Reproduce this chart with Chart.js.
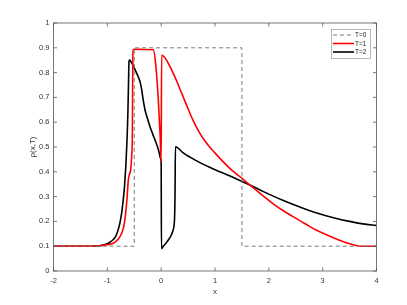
<!DOCTYPE html>
<html><head><meta charset="utf-8">
<script src="https://cdn.jsdelivr.net/npm/chart.js@4"></script>
<style>html,body{margin:0;padding:0;background:#fff}#wrap{width:407px;height:305px}</style>
</head><body><div id="wrap"><canvas id="c"></canvas></div>
<script>
const xTicks=[-2,-1,0,1,2,3,4];
const yTicks=[0,0.1,0.2,0.3,0.4,0.5,0.6,0.7,0.8,0.9,1];
const seriesNames=['T=0','T=1','T=2'];

const t0X=[-2,-0.5,-0.5,1.5,1.5,4];
const t0Y=[0.1,0.1,0.9,0.9,0.1,0.1];

const t1X=[-2,-1.4,-1.2,-1.1,-1.0,-0.89,-0.8,-0.733,-0.69,-0.66,-0.635,-0.61,-0.588,-0.566,-0.545,-0.535,-0.525,-0.515,-0.5,-0.3,-0.146,-0.1,-0.053,-0.02,0.0,0.008,0.05,0.1,0.15,0.2,0.25,0.3,0.35,0.4,0.45,0.5,0.55,0.6,0.66,0.72,0.8,0.9,0.97,1.1,1.28,1.465,1.645,1.9,2.1,2.27,2.45,2.6,2.75,2.89,3.05,3.2,3.35,3.5,3.6,3.69,4];
const t1Y=[0.1,0.1,0.101,0.103,0.106,0.112,0.128,0.152,0.185,0.233,0.29,0.367,0.39,0.41,0.475,0.55,0.88,0.893,0.894,0.893,0.892,0.83,0.69,0.55,0.44,0.87,0.865,0.85,0.83,0.808,0.785,0.76,0.733,0.707,0.68,0.654,0.628,0.604,0.578,0.555,0.528,0.5,0.483,0.452,0.413,0.38,0.347,0.302,0.268,0.243,0.219,0.2,0.181,0.164,0.148,0.134,0.121,0.11,0.104,0.1,0.1];

const t2X=[-2,-1.3,-1.2,-1.1,-1.0,-0.95,-0.9,-0.857,-0.81,-0.765,-0.733,-0.703,-0.685,-0.672,-0.655,-0.64,-0.629,-0.618,-0.61,-0.603,-0.597,-0.591,-0.55,-0.517,-0.46,-0.42,-0.393,-0.365,-0.343,-0.32,-0.3,-0.25,-0.207,-0.16,-0.114,-0.07,-0.035,-0.015,0.0,0.005,0.04,0.08,0.133,0.18,0.215,0.24,0.25,0.257,0.265,0.41,0.536,0.72,0.9,1.093,1.28,1.45,1.645,1.9,2.27,2.6,2.89,3.2,3.5,3.75,4];
const t2Y=[0.1,0.1,0.101,0.104,0.11,0.116,0.125,0.135,0.158,0.195,0.235,0.29,0.33,0.37,0.43,0.5,0.56,0.64,0.72,0.8,0.845,0.851,0.84,0.826,0.8,0.78,0.763,0.735,0.703,0.672,0.649,0.612,0.582,0.554,0.528,0.502,0.475,0.455,0.44,0.09,0.1,0.11,0.125,0.142,0.16,0.185,0.22,0.3,0.501,0.476,0.459,0.437,0.418,0.40,0.383,0.366,0.347,0.32,0.284,0.256,0.234,0.215,0.2,0.19,0.183];

const pts=(xs,ys)=>xs.map((x,i)=>({x:x,y:ys[i]}));

const boxPlugin={
  id:'box',
  afterDatasetsDraw(chart){
    const ctx=chart.ctx, a=chart.chartArea, xs=chart.scales.x, ys=chart.scales.y;
    ctx.save();
    ctx.strokeStyle='#555'; ctx.lineWidth=0.8;
    ctx.strokeRect(a.left,a.top,a.right-a.left,a.bottom-a.top);
    const L=3.5;
    ctx.beginPath();
    xTicks.forEach(v=>{const p=xs.getPixelForValue(v);
      ctx.moveTo(p,a.bottom);ctx.lineTo(p,a.bottom-L);
      ctx.moveTo(p,a.top);ctx.lineTo(p,a.top+L);});
    yTicks.forEach(v=>{const p=ys.getPixelForValue(v);
      ctx.moveTo(a.left,p);ctx.lineTo(a.left+L,p);
      ctx.moveTo(a.right,p);ctx.lineTo(a.right-L,p);});
    ctx.stroke();
    // legend
    const bx=331.5, by=29.5, bw=39, bh=29;
    ctx.fillStyle='#fff'; ctx.fillRect(bx,by,bw,bh);
    ctx.strokeStyle='#999'; ctx.lineWidth=0.7; ctx.strokeRect(bx,by,bw,bh);
    const rows=[35,43.5,52];
    chart.data.datasets.forEach((ds,i)=>{
      ctx.beginPath();
      ctx.strokeStyle=ds.borderColor; ctx.lineWidth=ds.borderWidth;
      ctx.setLineDash(ds.borderDash||[]);
      ctx.moveTo(333,rows[i]); ctx.lineTo(354,rows[i]); ctx.stroke();
      ctx.setLineDash([]);
      ctx.fillStyle='#222'; ctx.font='6.5px "Liberation Sans", Arial, sans-serif';
      ctx.textBaseline='middle'; ctx.textAlign='left';
      ctx.fillText(ds.label,355,rows[i]+0.5);
    });
    ctx.restore();
  }
};

const font={family:'"Liberation Sans", Arial, sans-serif',size:7.5};

new Chart(document.getElementById('c'),{
  type:'scatter',
  data:{datasets:[
    {label:seriesNames[0],data:pts(t0X,t0Y),showLine:true,borderColor:'#7a7a7a',borderWidth:1,borderDash:[4,3],pointRadius:0,fill:false},
    {label:seriesNames[1],data:pts(t1X,t1Y),showLine:true,cubicInterpolationMode:'monotone',borderColor:'#ff0000',borderWidth:1.6,pointRadius:0,fill:false},
    {label:seriesNames[2],data:pts(t2X,t2Y),showLine:true,cubicInterpolationMode:'monotone',borderColor:'#000000',borderWidth:1.6,pointRadius:0,fill:false}
  ]},
  options:{
    responsive:true,maintainAspectRatio:false,animation:false,
    layout:{padding:{top:23,right:30.5,left:0,bottom:0}},
    plugins:{legend:{display:false},tooltip:{enabled:false}},
    scales:{
      x:{type:'linear',min:-2,max:4,
        afterBuildTicks:s=>{s.ticks=xTicks.map(v=>({value:v}));},
        afterFit:s=>{s.height=34;},
        grid:{display:false,drawTicks:false},border:{display:false},
        ticks:{font:font,color:'#333',padding:5,maxRotation:0,callback:v=>String(v)},
        title:{display:true,text:'x',font:{family:font.family,size:8},color:'#333',padding:{top:0,bottom:8}}
      },
      y:{type:'linear',min:0,max:1,
        afterBuildTicks:s=>{s.ticks=yTicks.map(v=>({value:v}));},
        afterFit:s=>{s.width=53.5;},
        grid:{display:false,drawTicks:false},border:{display:false},
        ticks:{font:font,color:'#333',padding:4,callback:v=>String(v)},
        title:{display:true,text:'ρ(x,T)',font:{family:font.family,size:8},color:'#333',padding:{top:28,bottom:0}}
      }
    }
  },
  plugins:[boxPlugin]
});
</script>
</body></html>
